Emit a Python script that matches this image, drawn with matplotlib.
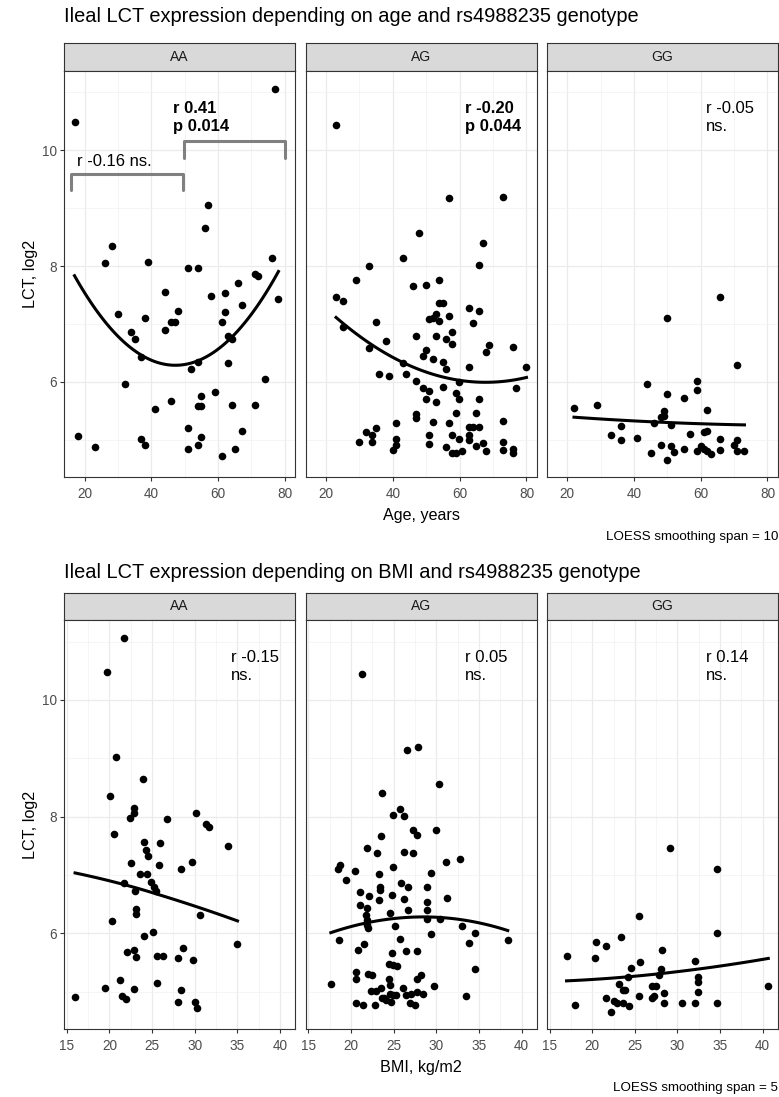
import numpy as np
import matplotlib.pyplot as plt
from matplotlib.ticker import MultipleLocator

plt.rcParams['font.family'] = ['Liberation Sans', 'DejaVu Sans']

W, H = 779, 1097
genotypes = ['AA', 'AG', 'GG']

# ---- LCT vs age, per genotype ----
age_AA = [17.0, 77.1, 18.0, 23.1, 26.1, 28.1, 30.0, 32.0, 34.0, 35.0, 37.0, 37.0, 38.0, 38.0,
          39.0, 41.0, 44.0, 44.0, 46.0, 46.0, 47.0, 48.0, 51.0, 51.0, 51.0, 52.0, 54.0, 54.0,
          54.0, 54.0, 55.0, 55.0, 55.0, 56.0, 57.0, 58.0, 59.1, 61.1, 61.1, 62.1, 62.1, 63.1,
          63.1, 64.1, 64.1, 65.1, 66.1, 67.2, 67.2, 71.1, 72.1, 71.1, 74.1, 76.1, 78.1]
lct_age_AA = [10.48, 11.06, 5.06, 4.88, 8.05, 8.35, 7.17, 5.97, 6.87, 6.74, 6.43, 5.02, 4.91, 7.11,
              8.07, 5.54, 7.56, 6.89, 5.67, 7.03, 7.03, 7.23, 7.96, 5.20, 4.84, 6.22, 7.96, 6.34,
              5.58, 4.92, 5.58, 5.75, 5.05, 8.65, 9.05, 7.49, 5.82, 7.03, 4.72, 7.54, 7.20, 6.79,
              6.33, 6.74, 5.61, 4.84, 7.71, 5.15, 7.32, 7.87, 7.82, 5.61, 6.05, 8.14, 7.43]

age_AG = [23.0, 23.0, 25.0, 25.0, 28.9, 29.9, 31.9, 32.9, 32.9, 33.9, 33.9, 34.9, 34.9, 35.9,
          37.9, 38.9, 40.0, 41.0, 41.0, 41.0, 42.9, 42.9, 43.9, 45.9, 46.9, 46.9, 46.9, 46.9,
          47.9, 48.9, 48.9, 49.9, 49.9, 50.9, 50.9, 50.9, 50.9, 49.9, 51.9, 51.9, 51.9, 52.9,
          52.9, 52.9, 53.9, 53.9, 53.9, 54.9, 54.9, 54.9, 55.9, 55.9, 55.9, 56.8, 56.8, 56.8,
          57.8, 57.8, 57.8, 57.8, 58.8, 58.8, 58.8, 59.8, 59.8, 59.8, 60.8, 62.9, 62.9, 62.9,
          62.9, 62.9, 63.9, 63.9, 64.9, 64.9, 65.9, 65.9, 65.9, 65.9, 66.9, 66.9, 67.9, 67.9,
          68.9, 72.9, 72.9, 72.9, 72.9, 75.9, 75.9, 75.9, 76.9, 80.0]
lct_age_AG = [10.44, 7.46, 7.39, 6.94, 7.76, 4.97, 5.13, 8.00, 6.59, 5.09, 4.96, 5.21, 7.03, 6.13,
              6.71, 6.10, 4.82, 4.92, 5.02, 5.29, 8.13, 6.32, 6.13, 7.65, 6.80, 6.01, 5.44, 5.38,
              8.57, 5.89, 6.45, 7.67, 6.55, 7.08, 5.84, 5.08, 4.93, 5.70, 7.11, 6.40, 5.31, 7.17,
              6.80, 5.66, 7.76, 7.05, 7.37, 7.36, 6.35, 5.92, 6.74, 6.22, 4.88, 9.17, 7.14, 5.29,
              6.87, 6.66, 5.09, 4.78, 5.81, 5.46, 4.78, 6.00, 5.70, 5.02, 4.81, 6.25, 5.22, 5.09,
              4.99, 7.27, 7.02, 5.22, 5.47, 4.89, 8.02, 7.22, 5.71, 5.22, 8.39, 4.95, 4.81, 6.51,
              6.64, 9.19, 5.33, 4.96, 4.82, 6.61, 4.85, 4.78, 5.89, 6.25]

age_GG = [22.0, 29.0, 33.0, 36.0, 36.0, 40.9, 44.0, 45.0, 46.0, 48.0, 48.0, 49.0, 49.0, 50.0,
          50.0, 50.0, 51.0, 51.0, 51.9, 54.9, 54.9, 56.9, 59.0, 59.0, 59.0, 60.0, 61.0, 61.0,
          62.0, 62.0, 62.0, 63.0, 65.9, 65.9, 65.9, 70.0, 71.0, 71.0, 71.0, 73.1]
lct_age_GG = [5.55, 5.61, 5.08, 5.24, 4.99, 5.03, 5.96, 4.78, 5.29, 4.91, 5.39, 5.50, 5.42, 7.11,
              5.79, 4.65, 5.25, 4.90, 4.79, 5.72, 4.84, 5.10, 6.01, 5.86, 4.81, 4.89, 5.13, 4.84,
              5.16, 5.52, 4.81, 4.75, 7.46, 5.02, 4.82, 4.92, 6.30, 4.99, 4.81, 4.81]

# ---- LCT vs BMI, per genotype ----
bmi_AA = [15.97, 19.74, 21.65, 20.72, 20.02, 20.56, 20.29, 19.43, 21.26, 21.53, 21.92, 21.73,
          22.08, 22.50, 22.43, 22.89, 22.89, 22.85, 22.85, 23.00, 23.13, 23.13, 23.13, 23.59,
          23.90, 24.10, 24.29, 24.37, 24.56, 24.10, 24.88, 25.11, 25.26, 25.42, 25.54, 25.61,
          25.85, 25.93, 26.28, 26.74, 28.10, 28.37, 28.45, 28.10, 28.65, 29.66, 29.77, 30.05,
          30.16, 30.32, 30.67, 31.29, 31.68, 33.90, 35.02]
lct_bmi_AA = [4.90, 10.48, 11.06, 9.03, 8.35, 7.70, 6.21, 5.06, 5.20, 4.93, 4.88, 6.87,
              5.68, 7.20, 7.97, 8.14, 8.06, 5.72, 5.05, 6.72, 6.41, 6.33, 5.59, 7.01,
              8.64, 7.57, 7.43, 7.01, 7.32, 5.96, 6.88, 6.03, 6.79, 6.72, 5.15, 5.61,
              7.17, 7.54, 5.61, 7.96, 5.57, 7.11, 5.02, 4.83, 5.75, 7.23, 5.55, 4.83,
              8.07, 4.72, 6.32, 7.87, 7.82, 7.50, 5.81]

bmi_AG = [21.32, 26.59, 27.91, 30.35, 23.68, 25.74, 24.96, 26.20, 27.21, 27.79, 29.96, 23.53,
          21.90, 23.10, 26.20, 27.21, 32.75, 31.09, 18.53, 18.76, 20.47, 24.96, 19.42, 23.26,
          29.42, 23.37, 25.89, 26.67, 23.45, 28.91, 21.09, 22.13, 24.81, 26.24, 31.20, 23.26,
          21.01, 21.82, 28.91, 24.61, 26.67, 28.91, 21.74, 28.95, 30.47, 21.82, 21.86, 22.02,
          25.19, 33.06, 29.42, 34.57, 18.60, 25.74, 33.88, 38.37, 20.81, 21.51, 24.84, 26.47,
          27.75, 24.50, 24.96, 25.39, 34.57, 17.64, 20.62, 20.62, 22.00, 22.48, 24.42, 27.71,
          28.26, 26.05, 24.61, 29.69, 22.40, 22.91, 23.53, 23.64, 24.07, 24.53, 24.96, 25.31,
          24.69, 26.43, 26.98, 27.71, 28.45, 26.94, 27.48, 20.62, 21.36, 22.87, 33.53, 23.91]
lct_bmi_AG = [10.44, 9.15, 9.19, 8.56, 8.40, 8.13, 8.02, 8.01, 7.77, 7.68, 7.77, 7.66,
              7.47, 7.38, 7.40, 7.38, 7.28, 7.23, 7.11, 7.17, 7.07, 7.14, 6.92, 7.01,
              7.04, 6.79, 6.87, 6.79, 6.74, 6.79, 6.70, 6.64, 6.65, 6.58, 6.61, 6.57,
              6.49, 6.44, 6.53, 6.34, 6.40, 6.40, 6.32, 6.25, 6.24, 6.22, 6.15, 6.09,
              6.12, 6.12, 5.99, 6.00, 5.89, 5.91, 5.83, 5.88, 5.72, 5.81, 5.67, 5.70,
              5.70, 5.47, 5.46, 5.44, 5.38, 5.13, 5.34, 5.21, 5.31, 5.29, 5.21, 5.22,
              5.29, 5.07, 5.11, 5.09, 5.01, 5.01, 5.07, 4.89, 4.86, 4.96, 4.95, 4.95,
              4.82, 4.95, 4.96, 5.00, 4.96, 4.81, 4.77, 4.81, 4.77, 4.77, 4.92, 4.89]

bmi_GG = [16.99, 17.96, 20.45, 20.37, 21.58, 21.58, 22.17, 23.41, 22.59, 22.91, 23.14, 23.61,
          23.88, 23.61, 24.27, 24.15, 24.54, 25.51, 25.55, 25.51, 27.00, 27.46, 27.00, 27.23,
          27.89, 28.12, 28.16, 28.43, 28.43, 29.14, 30.50, 32.02, 32.10, 32.45, 32.45, 32.45,
          34.67, 34.67, 34.67, 40.66]
lct_bmi_GG = [5.61, 4.77, 5.85, 5.57, 5.79, 4.89, 4.65, 5.94, 4.84, 4.80, 5.13, 5.03,
              5.03, 4.80, 4.75, 5.25, 5.40, 6.29, 5.50, 4.92, 5.10, 5.10, 4.89, 4.92,
              5.29, 5.39, 5.72, 4.97, 4.80, 7.47, 4.80, 4.80, 5.52, 5.25, 5.17, 4.99,
              7.11, 6.00, 4.80, 5.09]

# correlation labels
age_labels = ['r 0.41\np 0.014', 'r -0.20\np 0.044', 'r -0.05\nns.']
age_label_x = [46.4, 61.5, 61.5]
age_label_bold = [True, True, False]
bmi_labels = ['r -0.15\nns.', 'r 0.05\nns.', 'r 0.14\nns.']
bmi_label_x = [34.2, 33.4, 33.4]

# sub-group brackets in the AA age panel
bracket_x0 = [16.0, 49.7]
bracket_x1 = [49.5, 80.0]
bracket_top = [9.58, 10.16]
bracket_leg = [9.32, 9.86]
bracket_text = 'r -0.16 ns.'


def loess(x, y, span, n=80):
    """local quadratic fit, tricube weights (span > 1 case, as in R loess)"""
    x = np.asarray(x, float)
    y = np.asarray(y, float)
    grid = np.linspace(x.min(), x.max(), n)
    fit = []
    for x0 in grid:
        d = np.abs(x - x0)
        dmax = d.max() * span
        w = (1 - (d / dmax) ** 3) ** 3
        X = np.column_stack([np.ones_like(x), x - x0, (x - x0) ** 2])
        WX = X * w[:, None]
        beta = np.linalg.solve(WX.T @ X, WX.T @ y)
        fit.append(beta[0])
    return grid, np.array(fit)


def px_axes(fig, x0, y0, x1, y1):
    return fig.add_axes([x0 / W, 1 - y1 / H, (x1 - x0) / W, (y1 - y0) / H])


def style_panel(ax, show_y):
    ax.set_facecolor('white')
    for s in ax.spines.values():
        s.set_color('#333333')
        s.set_linewidth(0.8)
    ax.grid(which='major', color='#EBEBEB', lw=0.9)
    ax.grid(which='minor', color='#F2F2F2', lw=0.5)
    ax.set_axisbelow(True)
    ax.tick_params(which='major', length=3, width=0.8, color='#333333',
                   labelsize=9.8, labelcolor='#4D4D4D', pad=2)
    ax.tick_params(axis='x', which='major', pad=4)
    ax.tick_params(which='minor', length=0)
    ax.set_ylim(4.36, 11.37)
    ax.yaxis.set_major_locator(MultipleLocator(2))
    ax.yaxis.set_minor_locator(MultipleLocator(1))
    if not show_y:
        ax.tick_params(axis='y', which='both', left=False, labelleft=False)


def strip(fig, x0, y0, x1, y1, label):
    s = px_axes(fig, x0, y0, x1, y1)
    s.set_facecolor('#D9D9D9')
    for sp in s.spines.values():
        sp.set_color('#333333')
        sp.set_linewidth(0.8)
    s.set_xticks([])
    s.set_yticks([])
    s.text(0.5, 0.5, label, ha='center', va='center', fontsize=10, color='#1A1A1A',
           transform=s.transAxes)


fig = plt.figure(figsize=(W / 100, H / 100), dpi=100)

panel_x = [(64, 295.3), (305.5, 537), (546.8, 778)]

# ---------------- top: age ----------------
age_x = [age_AA, age_AG, age_GG]
age_y = [lct_age_AA, lct_age_AG, lct_age_GG]
fig.text(64 / W, 1 - 17 / H, 'Ileal LCT expression depending on age and rs4988235 genotype',
         fontsize=14.4, ha='left', va='center')
for i, g in enumerate(genotypes):
    x0, x1 = panel_x[i]
    strip(fig, x0, 42.7, x1, 70.7, g)
    ax = px_axes(fig, x0, 70.7, x1, 477)
    style_panel(ax, i == 0)
    ax.set_xlim(13.85, 83.15)
    ax.xaxis.set_major_locator(MultipleLocator(20))
    ax.xaxis.set_minor_locator(MultipleLocator(10))
    ax.scatter(age_x[i], age_y[i], s=30, color='black', linewidths=0, zorder=3)
    gx, gy = loess(age_x[i], age_y[i], span=10)
    ax.plot(gx, gy, color='black', lw=2.2, zorder=4)
    ax.text(age_label_x[i], 10.57, age_labels[i], ha='left', va='center', fontsize=12,
            fontweight='bold' if age_label_bold[i] else 'normal', linespacing=1.25)
    if i == 0:
        ax.set_ylabel('LCT, log2', fontsize=11.6, labelpad=3)
        # brackets with subgroup stats
        for bx0, bx1, bt, bl in zip(bracket_x0, bracket_x1, bracket_top, bracket_leg):
            ax.plot([bx0, bx0, bx1, bx1], [bl, bt, bt, bl], color='#808080', lw=2.2,
                    solid_capstyle='round', solid_joinstyle='round', zorder=4)
        ax.text(17.6, 9.81, bracket_text, ha='left', va='center', fontsize=12)
    if i == 1:
        ax.set_xlabel('Age, years', fontsize=11.6, labelpad=5)
fig.text(778 / W, 1 - 537 / H, 'LOESS smoothing span = 10', ha='right', va='center',
         fontsize=9.6)

# ---------------- bottom: BMI ----------------
bmi_x = [bmi_AA, bmi_AG, bmi_GG]
bmi_y = [lct_bmi_AA, lct_bmi_AG, lct_bmi_GG]
fig.text(64 / W, 1 - 572 / H, 'Ileal LCT expression depending on BMI and rs4988235 genotype',
         fontsize=14.4, ha='left', va='center')
for i, g in enumerate(genotypes):
    x0, x1 = panel_x[i]
    strip(fig, x0, 592.7, x1, 620, g)
    ax = px_axes(fig, x0, 620, x1, 1029)
    style_panel(ax, i == 0)
    ax.set_xlim(14.67, 41.8)
    ax.xaxis.set_major_locator(MultipleLocator(5))
    ax.xaxis.set_minor_locator(MultipleLocator(2.5))
    ax.scatter(bmi_x[i], bmi_y[i], s=30, color='black', linewidths=0, zorder=3)
    gx, gy = loess(bmi_x[i], bmi_y[i], span=5)
    ax.plot(gx, gy, color='black', lw=2.2, zorder=4)
    ax.text(bmi_label_x[i], 10.565, bmi_labels[i], ha='left', va='center', fontsize=12,
            linespacing=1.25)
    if i == 0:
        ax.set_ylabel('LCT, log2', fontsize=11.6, labelpad=3)
    if i == 1:
        ax.set_xlabel('BMI, kg/m2', fontsize=11.6, labelpad=5)
fig.text(778 / W, 1 - 1088 / H, 'LOESS smoothing span = 5', ha='right', va='center',
         fontsize=9.6)

fig.savefig('out.png', dpi=100)
